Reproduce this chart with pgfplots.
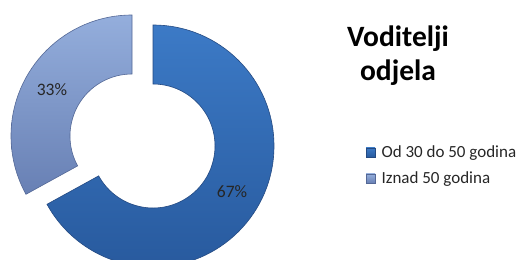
\documentclass[border=0pt]{standalone}
\usepackage{pgfplots}
\pgfplotsset{compat=1.18}
\usepackage{fontspec}
\setmainfont{Carlito}
\usetikzlibrary{calc}
\definecolor{dtop}{RGB}{60,122,198}
\definecolor{dbot}{RGB}{40,90,158}
\definecolor{dedge}{RGB}{36,74,130}
\definecolor{ltop}{RGB}{148,174,220}
\definecolor{lbot}{RGB}{104,128,180}
\definecolor{ledge}{RGB}{84,104,150}
\begin{document}
\begin{tikzpicture}
\begin{axis}[
  width=518bp, height=260bp, scale only axis,
  xmin=0, xmax=518, ymin=0, ymax=260,
  hide axis, clip=true,
]
% values (percent)
\def\valA{67}\def\valB{33}
\pgfmathsetmacro{\endA}{90-3.6*\valA}
\pgfmathsetmacro{\endB}{90+3.6*\valB}
\path (axis cs:0,0) rectangle (axis cs:518,260);
% slice A: Od 30 do 50 godina
\shade[top color=dtop, bottom color=dbot, draw=dedge, line width=0.6pt]
  ($(axis cs:153,114)+(90:121bp)$) arc[start angle=90, end angle=\endA, radius=121bp]
  -- ($(axis cs:153,114)+(\endA:62bp)$) arc[start angle=\endA, end angle=90, radius=62bp] -- cycle;
% slice B: Iznad 50 godina
\shade[top color=ltop, bottom color=lbot, draw=ledge, line width=0.6pt]
  ($(axis cs:132,124)+(90:121bp)$) arc[start angle=90, end angle=\endB, radius=121bp]
  -- ($(axis cs:132,124)+(\endB:62bp)$) arc[start angle=\endB, end angle=90, radius=62bp] -- cycle;
\node[font=\fontsize{17.5bp}{20bp}\selectfont, text=black!85] at (axis cs:52,170) {\valB\%};
\node[font=\fontsize{17.5bp}{20bp}\selectfont, text=black!85] at (axis cs:232,68) {\valA\%};
% title
\node[font=\fontsize{29.5bp}{34bp}\selectfont\bfseries, align=center, anchor=center] at (axis cs:398,204) {Voditelji\\odjela};
% legend
\fill[top color=dtop, bottom color=dbot, draw=dedge, line width=0.4pt] (axis cs:366,103) rectangle (axis cs:375,112);
\fill[top color=ltop, bottom color=lbot, draw=ledge, line width=0.4pt] (axis cs:366,77) rectangle (axis cs:375,86);
\node[font=\fontsize{17bp}{20bp}\selectfont, anchor=base west, text=black!85] at (axis cs:378,103) {Od 30 do 50 godina};
\node[font=\fontsize{17bp}{20bp}\selectfont, anchor=base west, text=black!85] at (axis cs:378,77) {Iznad 50 godina};
\end{axis}
\end{tikzpicture}
\end{document}
